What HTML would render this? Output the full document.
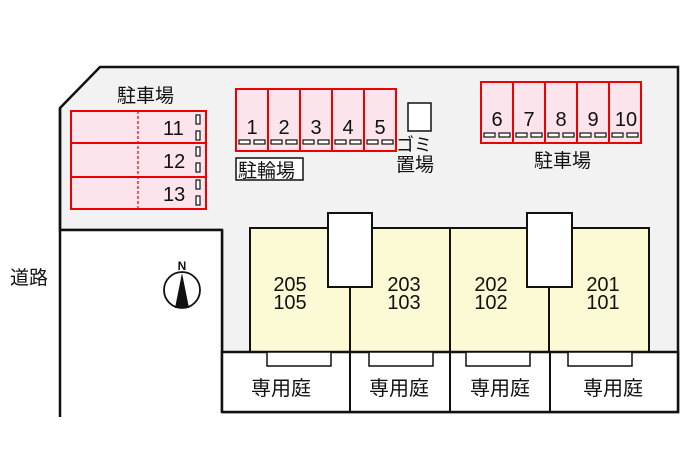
<!DOCTYPE html>
<html><head><meta charset="utf-8"><style>
html,body{margin:0;padding:0;background:#fff;}
svg{display:block;}
text{font-family:"Liberation Sans","Noto Sans CJK JP",sans-serif;fill:#111;}
</style></head><body>
<svg width="700" height="466" viewBox="0 0 700 466" xmlns="http://www.w3.org/2000/svg">
<polygon points="100,67 678,67 678,412 222,412 222,230 60,230 60,108" fill="#f2f2f2" stroke="#111" stroke-width="2.5"/>
<rect x="60" y="230" width="162" height="186" fill="#fff"/>
<line x1="60" y1="108" x2="60" y2="417" stroke="#111" stroke-width="2.5"/>
<line x1="60" y1="230" x2="222" y2="230" stroke="#111" stroke-width="2.5"/>
<line x1="222" y1="230" x2="222" y2="412" stroke="#111" stroke-width="2.5"/>
<text x="10" y="284" font-size="19">道路</text>

<text x="117" y="102" font-size="19">駐車場</text>
<g stroke="#e00" stroke-width="2" fill="#fbe4ec">
<rect x="71" y="111" width="135" height="32"/>
<rect x="71" y="143" width="135" height="34"/>
<rect x="71" y="177" width="135" height="32"/>
</g>
<line x1="138" y1="111" x2="138" y2="209" stroke="#e00" stroke-width="1.2" stroke-dasharray="3,2"/>
<g font-size="20"><text x="163" y="135">11</text><text x="163" y="168">12</text><text x="163" y="201">13</text></g>
<g fill="#fff" stroke="#111" stroke-width="1.2">
<rect x="196" y="115" width="4" height="9"/><rect x="196" y="131" width="4" height="9"/>
<rect x="196" y="147" width="4" height="9"/><rect x="196" y="163" width="4" height="9"/>
<rect x="196" y="180" width="4" height="9"/><rect x="196" y="196" width="4" height="9"/>
</g>

<g stroke="#e00" stroke-width="2" fill="#fbe4ec">
<rect x="236" y="89" width="32" height="62"/><rect x="268" y="89" width="32" height="62"/>
<rect x="300" y="89" width="32" height="62"/><rect x="332" y="89" width="32" height="62"/>
<rect x="364" y="89" width="32" height="62"/>
</g>
<g font-size="20" text-anchor="middle"><text x="252" y="134">1</text><text x="284" y="134">2</text><text x="316" y="134">3</text><text x="348" y="134">4</text><text x="380" y="134">5</text></g>
<g fill="#fff" stroke="#111" stroke-width="1.2">
<rect x="239" y="140" width="11" height="4"/><rect x="254" y="140" width="11" height="4"/>
<rect x="271" y="140" width="11" height="4"/><rect x="286" y="140" width="11" height="4"/>
<rect x="303" y="140" width="11" height="4"/><rect x="318" y="140" width="11" height="4"/>
<rect x="335" y="140" width="11" height="4"/><rect x="350" y="140" width="11" height="4"/>
<rect x="367" y="140" width="11" height="4"/><rect x="382" y="140" width="11" height="4"/>
</g>
<rect x="236" y="158" width="67" height="22" fill="#fff" stroke="#111" stroke-width="1.5"/>
<text x="238" y="177" font-size="19">駐輪場</text>

<rect x="408" y="103" width="23" height="28" fill="#fff" stroke="#111" stroke-width="1.5"/>
<text x="396" y="151" font-size="18">ゴミ</text>
<text x="396" y="171" font-size="19">置場</text>

<g stroke="#e00" stroke-width="2" fill="#fbe4ec">
<rect x="481" y="82" width="32" height="61"/><rect x="513" y="82" width="32" height="61"/>
<rect x="545" y="82" width="32" height="61"/><rect x="577" y="82" width="32" height="61"/>
<rect x="609" y="82" width="32" height="61"/>
</g>
<g font-size="20" text-anchor="middle"><text x="497" y="126">6</text><text x="529" y="126">7</text><text x="561" y="126">8</text><text x="593" y="126">9</text><text x="626" y="126">10</text></g>
<g fill="#fff" stroke="#111" stroke-width="1.2">
<rect x="484" y="133" width="11" height="4"/><rect x="499" y="133" width="11" height="4"/>
<rect x="516" y="133" width="11" height="4"/><rect x="531" y="133" width="11" height="4"/>
<rect x="548" y="133" width="11" height="4"/><rect x="563" y="133" width="11" height="4"/>
<rect x="580" y="133" width="11" height="4"/><rect x="595" y="133" width="11" height="4"/>
<rect x="612" y="133" width="11" height="4"/><rect x="627" y="133" width="11" height="4"/>
</g>
<text x="534" y="167" font-size="19">駐車場</text>

<text x="182" y="270" font-size="12" text-anchor="middle" font-weight="bold">N</text>
<circle cx="182" cy="290" r="18" fill="#fff" stroke="#111" stroke-width="1.8"/>
<polygon points="182,273 175,308 189,308" fill="#111"/>

<rect x="250" y="228" width="399" height="124" fill="#fbfad4" stroke="#111" stroke-width="2"/>
<g stroke="#111" stroke-width="2">
<line x1="350" y1="287" x2="350" y2="352"/><line x1="450" y1="228" x2="450" y2="352"/><line x1="549" y1="287" x2="549" y2="352"/>
</g>
<rect x="328" y="213" width="44" height="74" fill="#fff" stroke="#111" stroke-width="2"/>
<rect x="527" y="213" width="45" height="74" fill="#fff" stroke="#111" stroke-width="2"/>
<g font-size="20" text-anchor="middle">
<text x="290" y="291">205</text><text x="290" y="309">105</text>
<text x="404" y="291">203</text><text x="404" y="309">103</text>
<text x="491" y="291">202</text><text x="491" y="309">102</text>
<text x="603" y="291">201</text><text x="603" y="309">101</text>
</g>

<rect x="222" y="352" width="456" height="60" fill="#fff" stroke="#111" stroke-width="2.5"/>
<g stroke="#111" stroke-width="2">
<line x1="350" y1="352" x2="350" y2="412"/><line x1="450" y1="352" x2="450" y2="412"/><line x1="550" y1="352" x2="550" y2="412"/>
</g>
<g fill="#fff" stroke="#111" stroke-width="1.5">
<rect x="267" y="352" width="64" height="14"/><rect x="369" y="352" width="64" height="14"/>
<rect x="466" y="352" width="64" height="14"/><rect x="568" y="352" width="64" height="14"/>
</g>
<g font-size="20" text-anchor="middle">
<text x="281" y="395">専用庭</text><text x="399" y="395">専用庭</text><text x="500" y="395">専用庭</text><text x="613" y="395">専用庭</text>
</g>
</svg>
</body></html>
